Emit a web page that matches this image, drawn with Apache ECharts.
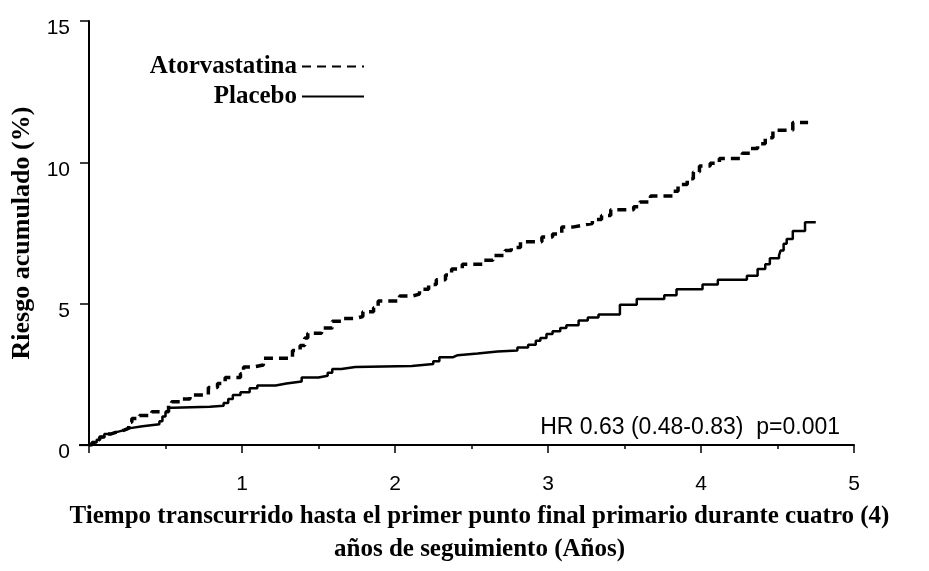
<!DOCTYPE html>
<html>
<head>
<meta charset="utf-8">
<script src="https://cdn.jsdelivr.net/npm/echarts@6/dist/echarts.min.js"></script>
<style>
    html, body { margin: 0; padding: 0; background: #fff; }
    #chart { width: 929px; height: 571px; }
</style>
</head>
<body>
<div id="chart"></div>
<script>
// 数据：Kaplan-Meier 累积风险（阶梯）
var atorvaTime = [0, 0.02, 0.05, 0.07, 0.10, 0.14, 0.18, 0.23, 0.26, 0.28, 0.33, 0.41, 0.52, 0.54, 0.61, 0.66,
    0.78, 0.84, 0.89, 0.99, 1.01, 1.07, 1.14, 1.33, 1.38, 1.41, 1.43, 1.52, 1.59, 1.66, 1.74, 1.79, 1.86, 1.89,
    2.03, 2.11, 2.16, 2.22, 2.27, 2.33, 2.37, 2.44, 2.58, 2.64, 2.72, 2.76, 2.82, 2.96, 3.03, 3.09, 3.16, 3.23,
    3.29, 3.35, 3.41, 3.56, 3.60, 3.67, 3.82, 3.85, 3.91, 3.95, 3.99, 4.06, 4.12, 4.27, 4.32, 4.37, 4.42, 4.47,
    4.60, 4.70];
var atorvaRisk = [0, 0.09, 0.19, 0.29, 0.39, 0.46, 0.53, 0.60, 0.81, 0.94, 1.05, 1.18, 1.42, 1.53, 1.63, 1.77,
    2.04, 2.18, 2.39, 2.52, 2.76, 2.83, 3.07, 3.35, 3.52, 3.79, 3.96, 4.14, 4.38, 4.48, 4.55, 4.72, 4.86, 5.10,
    5.27, 5.34, 5.51, 5.68, 5.85, 6.02, 6.23, 6.40, 6.54, 6.71, 6.88, 6.99, 7.19, 7.36, 7.47, 7.71, 7.78, 7.84,
    7.98, 8.12, 8.32, 8.43, 8.60, 8.81, 8.98, 9.22, 9.42, 9.66, 9.87, 9.97, 10.14, 10.32, 10.49, 10.66, 10.87, 11.14,
    11.41, 11.41];
var placeboTime = [0, 0.02, 0.05, 0.07, 0.10, 0.14, 0.18, 0.23, 0.27, 0.35, 0.46, 0.48, 0.50, 0.52, 0.55, 0.79,
    0.88, 0.91, 0.94, 0.99, 1.05, 1.10, 1.22, 1.29, 1.39, 1.50, 1.56, 1.59, 1.65, 1.74, 2.11, 2.25, 2.29, 2.38,
    2.41, 2.54, 2.67, 2.80, 2.87, 2.92, 2.95, 2.99, 3.03, 3.08, 3.12, 3.20, 3.26, 3.33, 3.47, 3.58, 3.76, 3.84,
    4.01, 4.11, 4.30, 4.37, 4.42, 4.45, 4.51, 4.52, 4.54, 4.56, 4.60, 4.68, 4.75];
var placeboRisk = [0, 0.09, 0.19, 0.29, 0.39, 0.46, 0.53, 0.60, 0.67, 0.74, 0.84, 1.01, 1.18, 1.32, 1.36, 1.39,
    1.49, 1.63, 1.77, 1.87, 2.01, 2.11, 2.18, 2.25, 2.39, 2.45, 2.56, 2.69, 2.76, 2.80, 2.87, 2.97, 3.11, 3.18,
    3.24, 3.31, 3.35, 3.45, 3.55, 3.69, 3.79, 3.93, 4.03, 4.14, 4.24, 4.41, 4.51, 4.62, 4.96, 5.17, 5.30, 5.51,
    5.68, 5.85, 5.99, 6.23, 6.40, 6.61, 6.71, 6.88, 7.12, 7.29, 7.57, 7.88, 7.88];
var xLabels = [1, 2, 3, 4, 5];
var yLabels = [0, 5, 10, 15];

var serif = '"Liberation Serif", "Times New Roman", serif';
var sans = '"Liberation Sans", Arial, sans-serif';

function pairs(xs, ys) {
    var arr = [];
    for (var i = 0; i < xs.length; i++) {
        arr.push([xs[i], ys[i]]);
    }
    return arr;
}

var myChart = echarts.init(document.getElementById('chart'));
var option = {
    animation: false,
    backgroundColor: '#fff',
    grid: { left: 89, right: 75, top: 21, bottom: 113.5, containLabel: false },
    legend: {
        orient: 'vertical',
        align: 'right',
        right: 559,
        top: 49,
        itemWidth: 62,
        itemHeight: 14,
        itemGap: 5,
        itemStyle: { opacity: 0 },
        textStyle: { fontFamily: serif, fontWeight: 'bold', fontSize: 25, color: '#000' },
        data: ['Atorvastatina', 'Placebo']
    },
    xAxis: {
        type: 'value',
        min: 0,
        max: 5,
        interval: 1,
        splitLine: { show: false },
        axisLine: { onZero: false, lineStyle: { color: '#000', width: 2 } },
        axisTick: { length: 8, lineStyle: { color: '#000', width: 1.5 } },
        minorTick: { show: true, splitNumber: 2, length: 4, lineStyle: { color: '#000', width: 1.5 } },
        axisLabel: {
            margin: 29,
            fontFamily: sans,
            fontSize: 21,
            color: '#000',
            formatter: function(v) { return xLabels.indexOf(v) >= 0 ? String(v) : ''; }
        },
        name: 'Tiempo transcurrido hasta el primer punto final primario durante cuatro (4)\naños de seguimiento (Años)',
        nameLocation: 'middle',
        nameGap: 36,
        nameTextStyle: { fontFamily: serif, fontWeight: 'bold', fontSize: 25, color: '#000', lineHeight: 33, padding: [0, 0, 0, 16] }
    },
    yAxis: {
        type: 'value',
        min: 0,
        max: 15,
        interval: 5,
        splitLine: { show: false },
        axisLine: { show: true, onZero: false, lineStyle: { color: '#000', width: 2 } },
        axisTick: { show: true, length: 9, lineStyle: { color: '#000', width: 1.5 } },
        axisLabel: {
            margin: 19,
            fontFamily: sans,
            fontSize: 21,
            color: '#000',
            verticalAlign: 'top',
            lineHeight: 15,
            formatter: function(v) { return yLabels.indexOf(v) >= 0 ? String(v) : ''; }
        },
        name: 'Riesgo acumulado (%)',
        nameLocation: 'middle',
        nameRotate: 90,
        nameGap: 52,
        nameTextStyle: { fontFamily: serif, fontWeight: 'bold', fontSize: 26, color: '#000' }
    },
    series: [{
        name: 'Atorvastatina',
        type: 'line',
        step: 'end',
        symbol: 'none',
        lineStyle: { color: '#000', width: 3.5, type: [9, 6] },
        itemStyle: { color: '#000' },
        data: pairs(atorvaTime, atorvaRisk)
    }, {
        name: 'Placebo',
        type: 'line',
        step: 'end',
        symbol: 'none',
        lineStyle: { color: '#000', width: 2.5 },
        itemStyle: { color: '#000' },
        data: pairs(placeboTime, placeboRisk)
    }]
};
myChart.setOption(option);

// 坐标轴左侧延伸 + HR 注释
var p0 = myChart.convertToPixel({ gridIndex: 0 }, [0, 0]);
myChart.setOption({
    graphic: [{
        type: 'line',
        shape: { x1: p0[0] - 10, y1: p0[1], x2: p0[0], y2: p0[1] },
        style: { stroke: '#000', lineWidth: 2 }
    }, {
        type: 'text',
        right: 89,
        top: 416,
        style: { text: 'HR 0.63 (0.48-0.83)  p=0.001', font: '23px ' + sans, fill: '#000' }
    }]
});
</script>
</body>
</html>
